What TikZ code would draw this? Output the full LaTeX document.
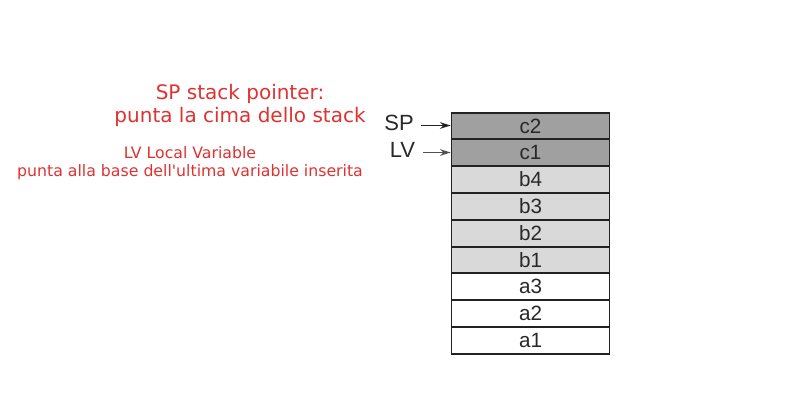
\documentclass[tikz,border=0pt]{standalone}
\usepackage{fontspec}
\setmainfont{Liberation Sans}
\newfontfamily\notefont{DejaVu Sans}
\usetikzlibrary{arrows.meta}
\definecolor{notered}{HTML}{E03131}
\definecolor{topgray}{HTML}{A0A0A0}
\definecolor{midgray}{HTML}{D9D9D9}
\tikzset{every picture/.style={line width=0.75pt}}
\tikzset{
	cell/.style={draw={rgb, 255:red, 34; green, 34; blue, 34}, line width=1.4pt, minimum width=118.5pt, minimum height=20.1pt, inner sep=0pt, text={rgb, 255:red, 40; green, 40; blue, 40}, font=\fontsize{15.5}{15.5}\selectfont},
	label/.style={font=\fontsize{16.5}{16.5}\selectfont, inner sep=0pt, text={rgb, 255:red, 40; green, 40; blue, 40}},
	note/.style={text=notered, font=\notefont\fontsize{15}{17.25}\selectfont, align=center},
	smallnote/.style={text=notered, font=\notefont\fontsize{11.8}{13.5}\selectfont, align=center},
	pointer/.style={-{Stealth[length=8pt,width=5pt]}, line width=0.8pt, draw={rgb, 255:red, 34; green, 34; blue, 34}}
}

\begin{document}
\begin{tikzpicture}[x=0.75pt,y=0.75pt,yscale=-1,xscale=1]
	\path (0,0) rectangle (806,406); %set diagram size

	%Stack cells
	\node [cell, fill=topgray] (c2) at (530.5,126) {c2};
	\node [cell, fill=topgray] (c1) at (530.5,152.8) {c1};
	\node [cell, fill=midgray] (b4) at (530.5,179.6) {b4};
	\node [cell, fill=midgray] (b3) at (530.5,206.4) {b3};
	\node [cell, fill=midgray] (b2) at (530.5,233.2) {b2};
	\node [cell, fill=midgray] (b1) at (530.5,260) {b1};
	\node [cell, fill=white] (a3) at (530.5,286.8) {a3};
	\node [cell, fill=white] (a2) at (530.5,313.6) {a2};
	\node [cell, fill=white] (a1) at (530.5,340.4) {a1};

	% Text Node
	\node [label] (sp) at (399,123) {SP};
	% Text Node
	\node [label] (lv) at (402.5,149.5) {LV};

	%Pointers
	\coordinate (spfrom) at (421,125.5);
	\coordinate (lvfrom) at (423,152.5);
	\draw [pointer] (spfrom) -- (spfrom -| c2.west);
	\draw [pointer, draw={rgb, 255:red, 80; green, 80; blue, 80}] (lvfrom) -- (lvfrom -| c1.west);

	% Text Node
	\node [note] (spnote) at (240,105.5) {SP stack pointer:\\punta la cima dello stack};
	% Text Node
	\node [smallnote] (lvnote) at (190,163) {LV Local Variable\\punta alla base dell'ultima variabile inserita};

\end{tikzpicture}
\end{document}
